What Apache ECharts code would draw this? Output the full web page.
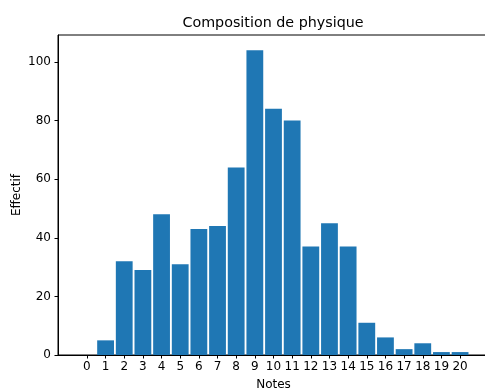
<!DOCTYPE html>
<html>
<head>
<meta charset="utf-8">
<script src="https://cdn.jsdelivr.net/npm/echarts@6/dist/echarts.min.js"></script>
<style>
  html, body { margin: 0; padding: 0; background: #fff; }
  #chart { width: 485px; height: 389px; }
</style>
</head>
<body>
<div id="chart"></div>
<script>
const notes = [0, 1, 2, 3, 4, 5, 6, 7, 8, 9, 10, 11, 12, 13, 14, 15, 16, 17, 18, 19, 20];
const effectifs = [0, 5, 32, 29, 48, 31, 43, 44, 64, 104, 84, 80, 37, 45, 37, 11, 6, 2, 4, 1, 1];
const yTicks = [0, 20, 40, 60, 80, 100];

const font = "DejaVu Sans";
const myChart = echarts.init(document.getElementById("chart"));

const option = {
  animation: false,
  title: {
    text: "Composition de physique",
    left: 268,
    textAlign: "center",
    top: 11,
    textStyle: { fontFamily: font, fontSize: 14.3, fontWeight: "normal", color: "#000" },
  },
  grid: {
    left: 58,
    width: 431,
    top: 35,
    bottom: 34,
    containLabel: false,
    outerBoundsMode: "none",
    show: true,
    borderColor: "#000",
    borderWidth: 1,
    backgroundColor: "transparent",
  },
  xAxis: {
    type: "value",
    min: -1.55,
    max: 21.55,
    name: "Notes",
    nameLocation: "middle",
    nameGap: 24,
    nameMoveOverlap: false,
    nameTextStyle: { fontFamily: font, fontSize: 12, color: "#000" },
    axisLine: { show: true, onZero: false, lineStyle: { color: "#000", width: 1 } },
    axisTick: { show: true, length: 3.5, lineStyle: { color: "#000" }, customValues: notes },
    axisLabel: { fontFamily: font, fontSize: 12, color: "#000", margin: 6, customValues: notes },
    splitLine: { show: false },
  },
  yAxis: {
    type: "value",
    min: 0,
    max: 109.2,
    name: "Effectif",
    nameLocation: "middle",
    nameGap: 35,
    nameMoveOverlap: false,
    nameTextStyle: { fontFamily: font, fontSize: 12, color: "#000" },
    axisLine: { show: true, onZero: false, lineStyle: { color: "#000", width: 1 } },
    axisTick: { show: true, length: 3.5, lineStyle: { color: "#000" }, customValues: yTicks },
    axisLabel: { fontFamily: font, fontSize: 12, color: "#000", margin: 7, customValues: yTicks },
    splitLine: { show: false },
  },
  series: [
    {
      type: "bar",
      data: notes.map((n, i) => [n, effectifs[i]]),
      barWidth: 16.8,
      itemStyle: { color: "#1f77b4" },
    },
  ],
};

option && myChart.setOption(option);
</script>
</body>
</html>
